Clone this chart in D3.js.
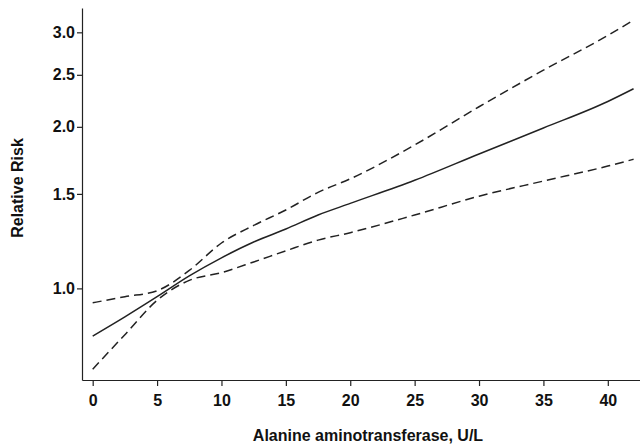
<!DOCTYPE html>
<html>
<head>
<meta charset="utf-8">
<script src="https://cdn.jsdelivr.net/npm/d3@7"></script>
<style>
  body { margin: 0; background: #fff; }
  svg text { font-family: "Liberation Sans", Arial, sans-serif; font-weight: bold; fill: #111; }
</style>
</head>
<body>
<svg id="chart" width="640" height="446"></svg>
<script>
const alt = [0, 2.5, 5, 7.5, 10, 12.5, 15, 17.5, 20, 25, 30, 35, 40, 42];
const rr = [0.815, 0.885, 0.965, 1.055, 1.14, 1.22, 1.29, 1.37, 1.44, 1.59, 1.78, 1.99, 2.23, 2.355];
const upper = [0.94, 0.965, 0.99, 1.08, 1.215, 1.31, 1.40, 1.51, 1.60, 1.85, 2.18, 2.55, 2.96, 3.16];
const lower = [0.707, 0.82, 0.95, 1.035, 1.07, 1.12, 1.175, 1.23, 1.27, 1.37, 1.485, 1.585, 1.69, 1.74];
const xTicks = [0, 5, 10, 15, 20, 25, 30, 35, 40];
const yTicks = [1.0, 1.5, 2.0, 2.5, 3.0];

const svg = d3.select("#chart");
const x = d3.scaleLinear().domain([-0.83, 42.5]).range([82, 640]);
const y = d3.scaleLog().domain([0.675, 3.33]).range([380, 8]);

svg
  .append("g")
  .attr("transform", "translate(0,380)")
  .call(d3.axisBottom(x).tickValues(xTicks).tickSize(6).tickSizeOuter(0).tickPadding(9).tickFormat(d3.format("d")));
svg
  .append("g")
  .attr("transform", "translate(82,0)")
  .call(d3.axisLeft(y).tickValues(yTicks).tickSize(5).tickSizeOuter(0).tickPadding(2).tickFormat(d3.format(".1f")));

svg.selectAll(".domain, .tick line").attr("stroke", "#222").attr("stroke-width", 1.2);
svg.selectAll(".tick text").style("font-size", "16px").style("font-weight", "bold").attr("fill", "#111");

const line = d3
  .line()
  .x((d) => x(d[0]))
  .y((d) => y(d[1]))
  .curve(d3.curveMonotoneX);

const series = [
  { values: rr, dash: null },
  { values: upper, dash: "9,5" },
  { values: lower, dash: "9,5" },
];

svg
  .selectAll("path.series")
  .data(series)
  .join("path")
  .attr("class", "series")
  .attr("d", (s) => line(alt.map((a, i) => [a, s.values[i]])))
  .attr("fill", "none")
  .attr("stroke", "#222")
  .attr("stroke-width", 1.5)
  .attr("stroke-dasharray", (s) => s.dash);

svg
  .append("text")
  .attr("x", 368)
  .attr("y", 441)
  .attr("text-anchor", "middle")
  .style("font-size", "16px")
  .text("Alanine aminotransferase, U/L");

svg
  .append("text")
  .attr("transform", "translate(23,188) rotate(-90)")
  .attr("text-anchor", "middle")
  .style("font-size", "16px")
  .text("Relative Risk");
</script>
</body>
</html>
